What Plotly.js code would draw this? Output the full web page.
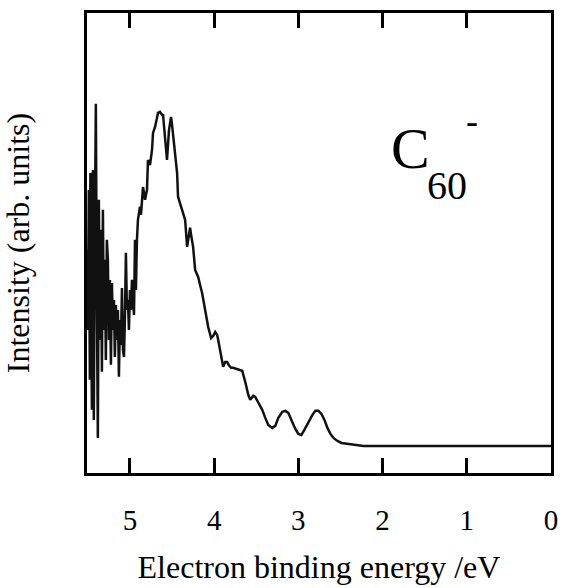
<!DOCTYPE html>
<html>
<head>
<meta charset="utf-8">
<script src="https://cdn.plot.ly/plotly-3.0.1.min.js"></script>
<style>html,body{margin:0;padding:0;background:#fff;}#chart{width:561px;height:588px;}</style>
</head>
<body>
<div id="chart"></div>
<script>
// Electron binding energy (eV)
var energy = [5.512,5.500,5.488,5.476,5.470,5.464,5.452,5.440,5.429,5.417,5.405,5.393,5.381,5.369,5.357,5.345,5.333,5.321,5.310,5.298,5.286,5.274,5.262,5.250,5.238,5.226,5.214,5.202,5.190,5.179,5.167,5.155,5.143,5.131,5.119,5.107,5.095,5.083,5.071,5.060,5.048,5.036,5.024,5.012,5.000,4.988,4.976,4.964,4.952,4.940,4.929,4.917,4.905,4.881,4.869,4.845,4.821,4.798,4.786,4.762,4.738,4.726,4.702,4.679,4.667,4.643,4.619,4.607,4.583,4.560,4.536,4.512,4.500,4.476,4.452,4.440,4.429,4.405,4.381,4.345,4.321,4.310,4.286,4.274,4.250,4.226,4.190,4.167,4.143,4.107,4.071,4.036,4.012,3.988,3.964,3.952,3.929,3.893,3.869,3.845,3.821,3.798,3.774,3.714,3.667,3.631,3.595,3.571,3.536,3.512,3.476,3.429,3.393,3.357,3.310,3.274,3.238,3.190,3.155,3.119,3.083,3.036,3.000,2.964,2.929,2.881,2.833,2.798,2.762,2.726,2.690,2.655,2.619,2.583,2.536,2.488,2.417,2.321,2.226,2.024,1.786,1.548,1.190,0.833,0.595,0.238,0.000];
// Photoelectron intensity (arb. units)
var intensity = [0.587,0.347,0.766,0.198,0.817,0.437,0.108,0.826,0.078,0.647,1.024,0.437,0.024,0.737,0.317,0.647,0.222,0.707,0.347,0.557,0.257,0.617,0.557,0.317,0.497,0.243,0.488,0.347,0.437,0.266,0.422,0.317,0.407,0.207,0.377,0.302,0.473,0.287,0.266,0.377,0.578,0.407,0.437,0.347,0.467,0.407,0.497,0.437,0.392,0.617,0.467,0.617,0.677,0.716,0.692,0.775,0.737,0.766,0.856,0.841,0.886,0.937,0.955,0.982,0.997,1.000,0.991,0.991,0.916,0.856,0.946,0.985,0.961,0.895,0.841,0.817,0.746,0.728,0.707,0.677,0.596,0.617,0.653,0.632,0.596,0.527,0.506,0.482,0.458,0.407,0.356,0.323,0.329,0.341,0.332,0.317,0.281,0.237,0.251,0.251,0.240,0.234,0.234,0.228,0.225,0.192,0.153,0.138,0.150,0.147,0.129,0.108,0.084,0.063,0.054,0.060,0.084,0.102,0.105,0.099,0.078,0.051,0.036,0.033,0.048,0.072,0.093,0.105,0.105,0.096,0.078,0.054,0.036,0.024,0.015,0.009,0.006,0.003,0.000,0.000,0.000,0.000,0.000,0.000,0.000,0.000,0.000];
var tickValues = [5,4,3,2,1,0];
var tickLabels = ['5','4','3','2','1','0'];

var serif = 'Liberation Serif';
var data = [{
  x: energy, y: intensity, type: 'scatter', mode: 'lines',
  line: {color: '#111', width: 2.5}, hoverinfo: 'skip'
}];
var layout = {
  width: 561, height: 588,
  margin: {l: 87, r: 10, t: 13, b: 115},
  paper_bgcolor: '#fff', plot_bgcolor: '#fff',
  showlegend: false,
  xaxis: {
    range: [5.51, 0], autorange: false,
    tickvals: tickValues, ticktext: tickLabels,
    ticks: 'inside', ticklen: 15, tickwidth: 3, tickcolor: '#000',
    showline: true, linewidth: 3, linecolor: '#000', mirror: 'ticks',
    showgrid: false, zeroline: false,
    tickfont: {family: serif, size: 29, color: '#000'},
    ticklabelstandoff: 19,
    title: {text: 'Electron binding energy /eV', font: {family: serif, size: 32, color: '#000'}, standoff: 21}
  },
  yaxis: {
    range: [-0.081, 1.296], autorange: false,
    showticklabels: false, ticks: '',
    showline: true, linewidth: 3, linecolor: '#000', mirror: true,
    showgrid: false, zeroline: false,
    title: {text: 'Intensity (arb. units)', font: {family: serif, size: 32, color: '#000'}, standoff: 45}
  },
  annotations: [
    {text: 'C', xref: 'paper', yref: 'paper', x: 0.697, y: 0.705, showarrow: false, font: {family: serif, size: 58, color: '#000'}, xanchor: 'center', yanchor: 'middle'},
    {text: '60', xref: 'paper', yref: 'paper', x: 0.776, y: 0.624, showarrow: false, font: {family: serif, size: 40, color: '#000'}, xanchor: 'center', yanchor: 'middle'},
    {text: '-', xref: 'paper', yref: 'paper', x: 0.830, y: 0.766, showarrow: false, font: {family: serif, size: 36, color: '#000'}, xanchor: 'center', yanchor: 'middle'}
  ]
};
Plotly.newPlot('chart', data, layout, {displayModeBar: false, staticPlot: true});
</script>
</body>
</html>
